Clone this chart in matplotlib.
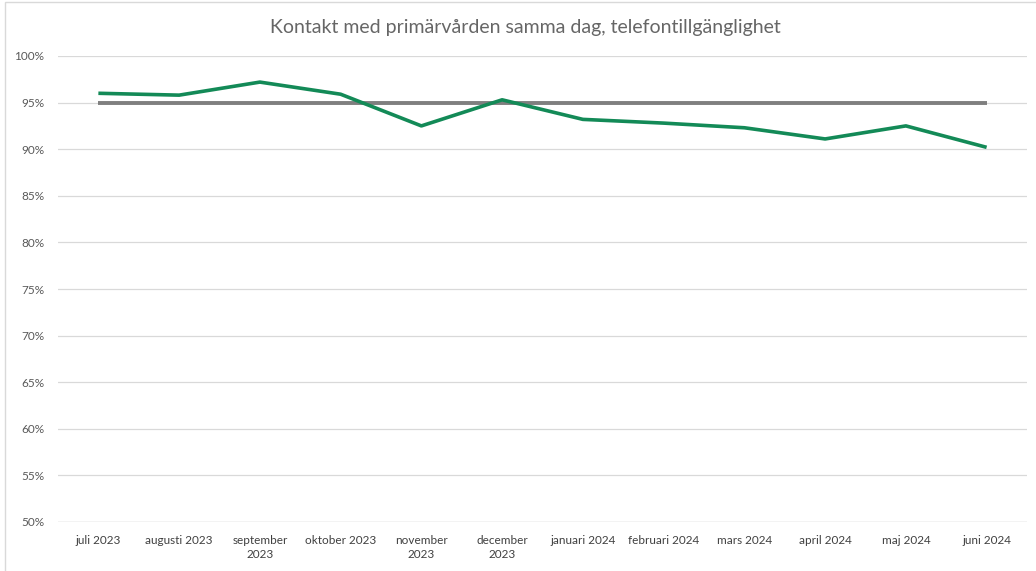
import matplotlib
matplotlib.use("Agg")
import matplotlib.pyplot as plt
from matplotlib.ticker import FuncFormatter, MultipleLocator
from matplotlib.patches import Rectangle

months = ["juli 2023", "augusti 2023", "september\n2023", "oktober 2023", "november\n2023",
          "december\n2023", "januari 2024", "februari 2024", "mars 2024", "april 2024",
          "maj 2024", "juni 2024"]
values = [96.0, 95.8, 97.2, 95.9, 92.5, 95.3, 93.2, 92.8, 92.3, 91.1, 92.5, 90.2]
target = [95.0] * len(months)

plt.rcParams['font.family'] = ['Lato', 'DejaVu Sans']

fig = plt.figure(figsize=(10.36, 5.71), dpi=100)
ax = fig.add_axes([58/1036, 1 - 522/571, (1027-58)/1036, (522-56)/571])

x = list(range(len(months)))
ax.plot(x, target, color="#7f7f7f", lw=2.8, solid_capstyle="butt", zorder=3)
ax.plot(x, values, color="#138a57", lw=2.6, solid_capstyle="butt", zorder=4)

ax.set_xlim(-0.5, len(months) - 0.5)
ax.set_ylim(50, 100)
ax.yaxis.set_major_locator(MultipleLocator(5))
ax.yaxis.set_major_formatter(FuncFormatter(lambda v, p: f"{int(v)}%"))
ax.grid(axis="y", color="#d9d9d9", lw=0.9, zorder=0)
ax.set_xticks(x)
ax.set_xticklabels(months, fontsize=8.5, color="#404040", linespacing=1.35)
ax.tick_params(axis="y", labelsize=8.5, labelcolor="#595959", length=0, pad=10)
ax.tick_params(axis="x", length=0, pad=9)
for s in ax.spines.values():
    s.set_visible(False)
ax.axhline(50, color="#d9d9d9", lw=1.0, zorder=1)

fig.text(525/1036, 1 - 27/571, "Kontakt med primärvården samma dag, telefontillgänglighet",
         ha="center", va="center", fontsize=14, color="#666666")

# chart border
fig.add_artist(Rectangle((5/1036, -0.1), 1.2, 1 - 2/571 + 0.1, transform=fig.transFigure,
                         fill=False, edgecolor="#d9d9d9", lw=1.0))

fig.savefig("out.png", dpi=100)
